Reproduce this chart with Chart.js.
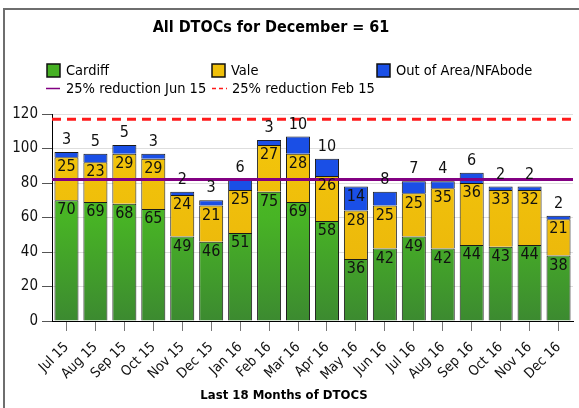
<!DOCTYPE html>
<html>
<head>
<meta charset="utf-8">
<script src="https://cdn.jsdelivr.net/npm/chart.js@4.4.0/dist/chart.umd.min.js"></script>
<style>
html, body { margin: 0; padding: 0; background: #fff; overflow: hidden; }
#wrap { position: relative; width: 579px; height: 408px; }
#frame { position: absolute; left: 3px; top: 8px; width: 600px; height: 420px;
         border-left: 2px solid #6e6e6e; border-top: 2px solid #6e6e6e; }
#chart { position: absolute; left: 0; top: 0; }
</style>
</head>
<body>
<div id="wrap">
  <div id="frame"></div>
  <canvas id="chart" width="579" height="408"></canvas>
</div>
<script>
var months = ['Jul 15', 'Aug 15', 'Sep 15', 'Oct 15', 'Nov 15', 'Dec 15', 'Jan 16', 'Feb 16', 'Mar 16',
              'Apr 16', 'May 16', 'Jun 16', 'Jul 16', 'Aug 16', 'Sep 16', 'Oct 16', 'Nov 16', 'Dec 16'];
var cardiff   = [70, 69, 68, 65, 49, 46, 51, 75, 69, 58, 36, 42, 49, 42, 44, 43, 44, 38];
var vale      = [25, 23, 29, 29, 24, 21, 25, 27, 28, 26, 28, 25, 25, 35, 36, 33, 32, 21];
var outOfArea = [ 3,  5,  5,  3,  2,  3,  6,  3, 10, 10, 14,  8,  7,  4,  6,  2,  2,  2];

var reductionJun15 = 82;
var reductionFeb15 = 117;

var chartTitle = 'All DTOCs for December = 61';
var axisTitle = 'Last 18 Months of DTOCS';

var FONT = "'DejaVu Sans Condensed', Tahoma, 'DejaVu Sans', sans-serif";

function vGrad(stops) {
    return function(c) {
        var a = c.chart.chartArea;
        if (!a) return stops[stops.length - 1][1];
        var g = c.chart.ctx.createLinearGradient(0, a.top, 0, a.bottom);
        stops.forEach(function(s) { g.addColorStop(s[0], s[1]); });
        return g;
    };
}

// reference lines across the whole plot
var targetLines = {
    id: 'targetLines',
    afterDatasetsDraw: function(chart) {
        var ctx = chart.ctx, a = chart.chartArea, y = chart.scales.y;
        ctx.save();
        ctx.lineWidth = 3;
        ctx.strokeStyle = '#ff1a1a';
        ctx.setLineDash([9, 6]);
        ctx.beginPath();
        ctx.moveTo(a.left, y.getPixelForValue(reductionFeb15));
        ctx.lineTo(a.right, y.getPixelForValue(reductionFeb15));
        ctx.stroke();
        ctx.setLineDash([]);
        ctx.strokeStyle = '#820082';
        ctx.beginPath();
        ctx.moveTo(a.left, y.getPixelForValue(reductionJun15));
        ctx.lineTo(a.right, y.getPixelForValue(reductionJun15));
        ctx.stroke();
        ctx.restore();
    }
};

// value labels on the bars
var barLabels = {
    id: 'barLabels',
    afterDatasetsDraw: function(chart) {
        var ctx = chart.ctx;
        ctx.save();
        ctx.font = '16px ' + FONT;
        ctx.fillStyle = '#111';
        ctx.textAlign = 'center';
        chart.data.datasets.forEach(function(ds, i) {
            var meta = chart.getDatasetMeta(i);
            meta.data.forEach(function(bar, j) {
                var v = ds.data[j];
                var top = Math.min(bar.y, bar.base);
                if (i < 2 || v > 10) {
                    ctx.textBaseline = 'top';
                    ctx.fillText(v, bar.x, top + 2);
                } else {
                    ctx.textBaseline = 'bottom';
                    ctx.fillText(v, bar.x, top - 4);
                }
            });
        });
        ctx.restore();
    }
};

// title, legend and axis title
var decorations = {
    id: 'decorations',
    afterDraw: function(chart) {
        var ctx = chart.ctx;
        ctx.save();
        ctx.fillStyle = '#000';
        ctx.textBaseline = 'middle';
        ctx.textAlign = 'center';
        ctx.font = 'bold 16px ' + FONT;
        ctx.fillText(chartTitle, 271, 28);
        ctx.font = 'bold 13px ' + FONT;
        ctx.fillText(axisTitle, 284, 396);

        ctx.textAlign = 'left';
        ctx.font = '14.5px ' + FONT;
        var boxes = [[47, '#45b023', 'Cardiff'], [212, '#f0c00a', 'Vale'], [377, '#1a4fe6', 'Out of Area/NFAbode']];
        boxes.forEach(function(b) {
            ctx.fillStyle = b[1];
            ctx.fillRect(b[0], 64, 13, 13);
            ctx.lineWidth = 1.5;
            ctx.strokeStyle = '#111';
            ctx.strokeRect(b[0], 64, 13, 13);
            ctx.fillStyle = '#000';
            ctx.fillText(b[2], b[0] + 19, 71);
        });
        ctx.lineWidth = 1.5;
        ctx.strokeStyle = '#820082';
        ctx.beginPath(); ctx.moveTo(46, 88.5); ctx.lineTo(60, 88.5); ctx.stroke();
        ctx.fillText('25% reduction Jun 15', 66, 89);
        ctx.strokeStyle = '#ff1a1a';
        ctx.setLineDash([4, 3]);
        ctx.beginPath(); ctx.moveTo(212, 88.5); ctx.lineTo(227, 88.5); ctx.stroke();
        ctx.setLineDash([]);
        ctx.fillText('25% reduction Feb 15', 232, 89);
        ctx.restore();
    }
};

var ctx = document.getElementById('chart');
var dtocChart = new Chart(ctx, {
    type: 'bar',
    data: {
        labels: months,
        datasets: [
            {
                label: 'Cardiff',
                data: cardiff,
                backgroundColor: vGrad([[0, '#4fc41e'], [0.5, '#48b425'], [1, '#3c8a30']]),
                borderColor: '#1a1a1a',
                borderWidth: 1
            },
            {
                label: 'Vale',
                data: vale,
                backgroundColor: vGrad([[0, '#f4c80a'], [1, '#e9b20c']]),
                borderColor: '#1a1a1a',
                borderWidth: 1
            },
            {
                label: 'Out of Area/NFAbode',
                data: outOfArea,
                backgroundColor: '#1a4fe6',
                borderColor: '#1a1a1a',
                borderWidth: 1
            }
        ]
    },
    options: {
        responsive: false,
        animation: false,
        layout: { padding: { top: 114, right: 6, bottom: 0, left: 0 } },
        datasets: { bar: { categoryPercentage: 1, barPercentage: 0.83 } },
        plugins: {
            legend: { display: false },
            title: { display: false },
            tooltip: { enabled: false }
        },
        scales: {
            x: {
                stacked: true,
                afterFit: function(s) { s.height = 87; },
                border: { color: '#000', width: 1 },
                grid: { drawOnChartArea: false, offset: false, tickLength: 10, color: '#777' },
                ticks: { minRotation: 45, maxRotation: 45, padding: 8, color: '#111',
                         font: { family: FONT, size: 14 } }
            },
            y: {
                stacked: true,
                min: 0,
                max: 120,
                afterFit: function(s) { s.width = 52; },
                border: { color: '#000', width: 1 },
                grid: { color: '#dedede', tickColor: '#555', tickLength: 10 },
                ticks: { stepSize: 20, padding: 4, color: '#111', font: { family: FONT, size: 15 } }
            }
        }
    },
    plugins: [targetLines, barLabels, decorations]
});
</script>
</body>
</html>
